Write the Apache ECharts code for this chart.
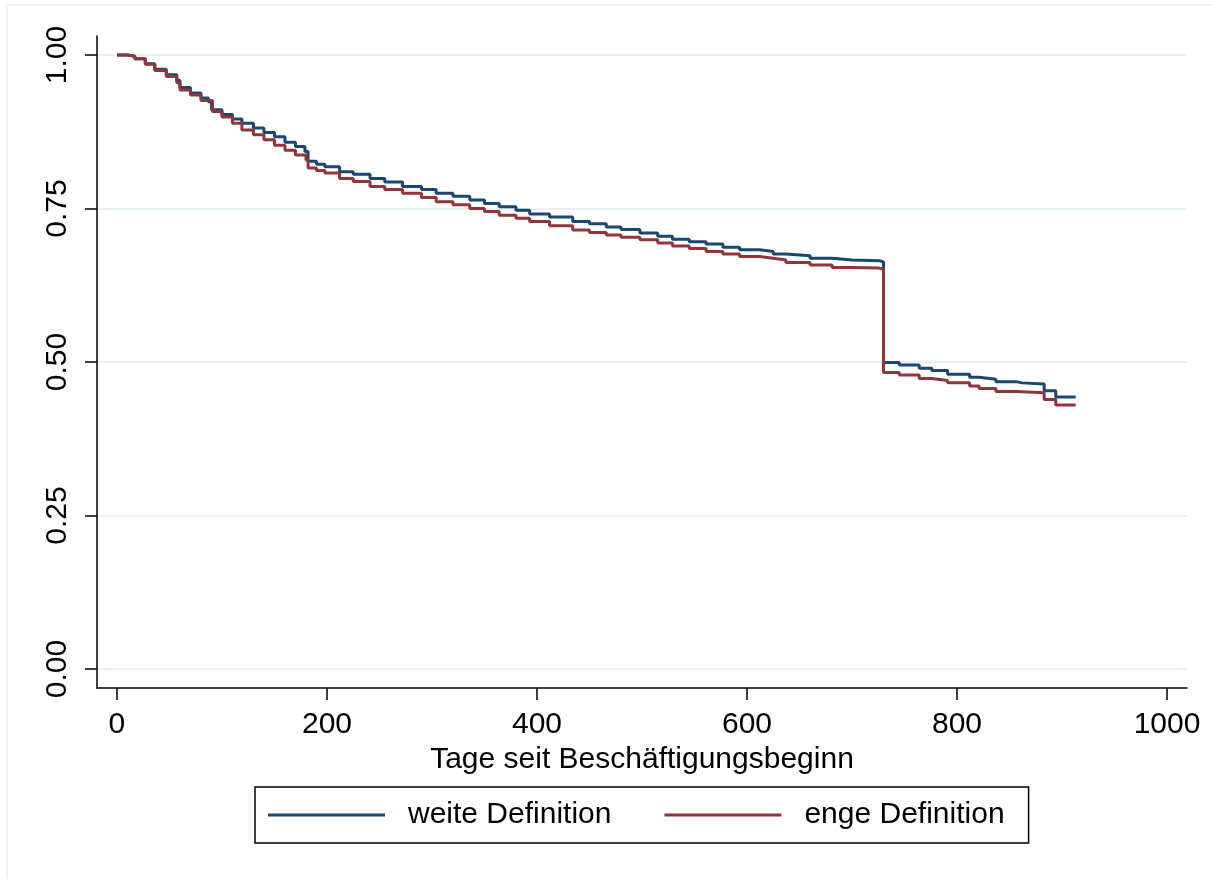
<!DOCTYPE html>
<html>
<head>
<meta charset="utf-8">
<script src="https://cdn.jsdelivr.net/npm/echarts@6/dist/echarts.min.js"></script>
<style>
  html, body { margin: 0; padding: 0; background: #fff; }
  #chart { width: 1212px; height: 879px; }
</style>
</head>
<body>
<div id="chart"></div>
<script>
// Kaplan-Meier Kurven, Werte [Tag, Anteil]
var weiteDef = [
    [0, 1.0], [10, 0.998], [17, 0.994], [27, 0.986], [36, 0.977], [47, 0.968], [57, 0.959],
    [60, 0.947], [70, 0.938], [80, 0.930], [87, 0.924], [90, 0.911], [100, 0.903], [110, 0.896],
    [119, 0.889], [130, 0.881], [140, 0.874], [150, 0.867], [160, 0.858], [170, 0.851], [179, 0.843],
    [182, 0.827], [190, 0.822], [198, 0.818], [212, 0.810], [225, 0.806], [241, 0.799], [255, 0.793],
    [272, 0.786], [290, 0.781], [304, 0.775], [320, 0.770], [336, 0.764], [350, 0.758], [364, 0.753],
    [380, 0.747], [393, 0.741], [412, 0.736], [434, 0.729], [450, 0.725], [466, 0.720], [480, 0.716],
    [498, 0.710], [515, 0.705], [529, 0.700], [545, 0.696], [561, 0.692], [577, 0.687], [593, 0.683],
    [612, 0.680], [625, 0.676], [637, 0.673], [660, 0.669], [681, 0.666], [700, 0.665], [726, 0.663],
    [730, 0.499], [745, 0.495], [764, 0.490], [776, 0.486], [791, 0.480], [812, 0.475], [821, 0.472],
    [837, 0.468], [856, 0.466], [862, 0.464], [883, 0.453], [894, 0.443], [913, 0.443]
];
var engeDef = [
    [0, 1.0], [10, 0.998], [17, 0.994], [27, 0.985], [36, 0.975], [47, 0.965], [57, 0.955],
    [60, 0.943], [70, 0.935], [80, 0.926], [91, 0.908], [100, 0.899], [110, 0.889], [119, 0.878],
    [130, 0.870], [140, 0.862], [150, 0.853], [160, 0.845], [170, 0.837], [180, 0.829], [182, 0.816],
    [190, 0.812], [198, 0.808], [212, 0.799], [225, 0.794], [241, 0.786], [255, 0.781], [272, 0.775],
    [290, 0.768], [304, 0.761], [320, 0.756], [336, 0.750], [350, 0.745], [364, 0.739], [380, 0.734],
    [393, 0.729], [412, 0.722], [434, 0.715], [450, 0.711], [466, 0.707], [480, 0.703], [498, 0.699],
    [515, 0.694], [529, 0.689], [545, 0.685], [561, 0.680], [577, 0.676], [593, 0.672], [612, 0.669],
    [625, 0.666], [637, 0.662], [660, 0.658], [681, 0.654], [700, 0.653], [726, 0.651],
    [730, 0.483], [745, 0.479], [764, 0.473], [776, 0.470], [791, 0.466], [812, 0.461], [821, 0.457],
    [837, 0.452], [856, 0.450], [883, 0.439], [894, 0.430], [913, 0.430]
];
var xTicks = [0, 200, 400, 600, 800, 1000];
var yTicks = [0, 0.25, 0.5, 0.75, 1];
var seriesNames = ['weite Definition', 'enge Definition'];

var fontFam = 'Liberation Sans, Arial, sans-serif';
var chart = echarts.init(document.getElementById('chart'));

var option = {
    backgroundColor: '#fff',
    animation: false,
    graphic: [{
        type: 'rect',
        shape: {x: 7, y: 5, width: 1300, height: 1000},
        style: {fill: 'none', stroke: '#e9eef2', lineWidth: 1.5},
        silent: true
    }],
    grid: {left: 97, right: 25, top: 36, bottom: 191, containLabel: false},
    legend: {
        data: seriesNames,
        left: 255,
        top: 787,
        orient: 'horizontal',
        icon: 'rect',
        itemWidth: 117,
        itemHeight: 3,
        itemGap: 53,
        padding: [13, 24, 13, 13],
        borderColor: '#000',
        borderWidth: 1.5,
        textStyle: {fontFamily: fontFam, fontSize: 30, color: '#000', padding: [0, 0, 0, 18]}
    },
    xAxis: {
        type: 'value',
        min: -19,
        max: 1019,
        name: 'Tage seit Beschäftigungsbeginn',
        nameLocation: 'middle',
        nameGap: 50,
        nameTextStyle: {fontFamily: fontFam, fontSize: 30, color: '#000'},
        axisLine: {onZero: false, lineStyle: {color: '#000', width: 1.5}},
        axisTick: {length: 12, lineStyle: {color: '#000', width: 1.5}, customValues: xTicks},
        axisLabel: {
            fontFamily: fontFam, fontSize: 30, color: '#000', margin: 22, customValues: xTicks,
            formatter: function (v) { return String(v); }
        },
        splitLine: {show: false}
    },
    yAxis: {
        type: 'value',
        min: -0.031,
        max: 1.031,
        axisLine: {show: true, onZero: false, lineStyle: {color: '#000', width: 1.5}},
        axisTick: {show: true, length: 12, lineStyle: {color: '#000', width: 1.5}, customValues: yTicks},
        axisLabel: {
            fontFamily: fontFam, fontSize: 30, color: '#000', margin: 24, rotate: 90,
            customValues: yTicks,
            formatter: function (v) { return v.toFixed(2); }
        },
        splitLine: {show: true, lineStyle: {color: '#e8f0f2', width: 2}}
    },
    series: [
        {
            name: seriesNames[0],
            type: 'line',
            step: 'end',
            showSymbol: false,
            data: weiteDef,
            itemStyle: {color: '#1a476f'},
            lineStyle: {color: '#1a476f', width: 3},
            z: 3
        },
        {
            name: seriesNames[1],
            type: 'line',
            step: 'end',
            showSymbol: false,
            data: engeDef,
            itemStyle: {color: '#90353b'},
            lineStyle: {color: '#90353b', width: 3},
            z: 4
        }
    ]
};
chart.setOption(option);
</script>
</body>
</html>
